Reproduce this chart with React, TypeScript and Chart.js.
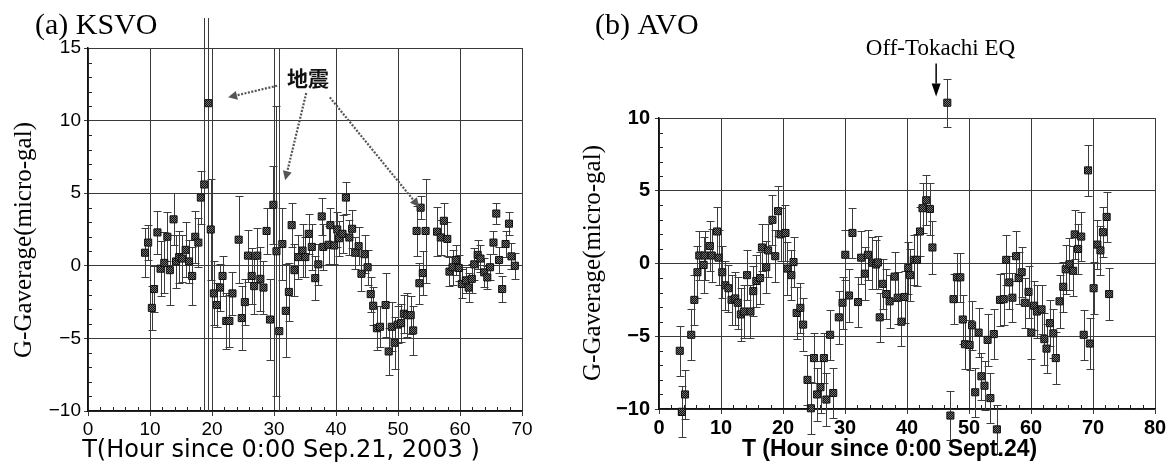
import React, { useEffect, useRef } from "react";
import { Chart, registerables } from "chart.js";

Chart.register(...registerables);

// ---------- Panel (a) KSVO ----------
const A_HOURS = [
  9.2, 9.7, 10.3, 10.65, 11.2, 11.7, 12.3, 12.8, 13.2, 13.8,
  14.2, 14.7, 15.2, 15.75, 16.3, 16.8, 17.3, 17.8, 18.2, 18.75,
  19.4, 19.8, 20.3, 20.8, 21.3, 21.7, 22.3, 22.8, 23.3, 24.3,
  24.8, 25.3, 25.8, 26.4, 26.8, 27.3, 27.8, 28.3, 28.8, 29.35,
  29.9, 30.4, 30.85, 31.35, 31.9, 32.4, 32.85, 33.3, 33.9, 34.6,
  35.05, 35.6, 36.1, 36.65, 37.15, 37.7, 37.95, 38.8, 39.1, 39.7,
  40.2, 40.5, 41.05, 41.6, 42.15, 42.6, 43.1, 43.65, 44.1, 44.6,
  45.1, 45.6, 46.0, 46.6, 47.1, 48.0, 48.5, 49.0, 49.45, 49.95,
  50.5, 50.95, 51.5, 52.05, 52.45, 53.0, 53.45, 53.65, 54.0, 54.45,
  56.3, 56.9, 57.4, 57.95, 58.3, 58.8, 59.3, 59.8, 60.3, 60.95,
  61.4, 61.9, 62.3, 62.85, 63.3, 63.9, 64.4, 64.85, 65.4, 65.85,
  66.3, 66.8, 67.35, 67.9, 68.3, 68.85,
];
const A_GRAV = [
  0.9, 1.6, -2.9, -1.6, 2.3, -0.2, 0.2, 2.0, -0.3, 3.2,
  0.3, 0.6, 0.5, 1.1, 0.3, -0.7, 2.0, 1.6, 4.7, 5.6,
  11.2, 2.5, -1.9, -2.7, -1.5, -0.7, -3.8, -3.8, -1.9, 1.8,
  -3.6, -2.5, 0.7, -0.7, -1.4, 0.7, -0.9, -1.5, 2.4, -3.7,
  4.2, 1.0, -4.5, 1.5, -3.1, -1.8, 2.8, -0.3, 0.6, 1.05,
  0.6, 2.2, 1.3, -0.85, 0.1, 3.4, 1.3, 1.45, 2.8, 1.4,
  2.5, 1.9, 2.2, 4.7, 1.95, 2.55, 0.9, 1.35, -0.55, 0.8,
  -0.1, -1.95, -2.75, -4.3, -4.2, -2.7, -5.9, -4.2, -5.3, -4.05,
  -3.95, -3.3, -3.4, -3.4, -4.45, 2.4, -1.2, 4.0, -0.5, 2.4,
  2.35, 1.95, 3.1, 1.85, -0.4, -0.1, 0.4, -0.15, -1.25, -1.0,
  -1.5, -0.9, 0.1, 0.75, 0.5, -0.45, -0.8, -0.1, 1.6, 3.6,
  0.4, -1.6, 1.5, 2.9, 0.65, 0.0,
];
const A_ERR = [
  1.7, 1.2, 1.5, 1.6, 1.5, 1.9, 2.1, 1.7, 2.4, 1.8,
  1.8, 1.8, 1.6, 1.9, 1.5, 2.0, 1.8, 1.7, 1.8, 18,
  25, 3.5, 2.2, 1.5, 1.6, 1.4, 1.9, 1.8, 1.5, 3.0,
  2.2, 1.6, 1.8, 1.9, 1.9, 1.9, 2.2, 1.8, 1.6, 2.8,
  2.7, 10, 19.5, 2.5, 3.2, 2.0, 1.5, 1.8, 1.5, 1.8,
  1.4, 1.4, 1.6, 1.5, 1.4, 1.3, 1.6, 1.3, 1.2, 1.3,
  1.2, 1.2, 1.3, 1.1, 1.2, 1.3, 1.1, 1.3, 1.2, 1.3,
  1.2, 1.2, 1.3, 1.5, 1.4, 2.2, 1.6, 1.7, 1.8, 1.3,
  1.3, 1.3, 1.5, 1.3, 1.7, 1.7, 1.4, 0.8, 1.5, 3.6,
  1.7, 1.2, 1.2, 1.2, 1.0, 1.2, 1.0, 0.9, 1.0, 0.9,
  1.0, 1.0, 1.1, 1.0, 0.9, 1.0, 0.8, 0.9, 0.8, 0.75,
  0.9, 0.9, 0.9, 0.8, 0.9, 0.9,
];
const A_X_TICKS = [0, 10, 20, 30, 40, 50, 60, 70];
const A_Y_TICKS = [-10, -5, 0, 5, 10, 15];

// ---------- Panel (b) AVO ----------
const B_HOURS = [
  3.35, 3.7, 4.2, 5.2, 5.7, 6.2, 6.5, 7.2, 7.35, 8.2,
  8.5, 9.35, 9.6, 10.2, 10.7, 11.2, 11.7, 12.3, 12.7, 13.2,
  13.7, 14.2, 14.75, 15.2, 15.7, 16.3, 16.6, 17.3, 17.6, 18.3,
  18.75, 19.2, 19.6, 20.4, 20.7, 21.35, 21.7, 22.2, 22.8, 23.25,
  23.95, 24.5, 25.0, 25.5, 26.05, 26.6, 27.0, 27.6, 28.1, 29.0,
  29.6, 30.05, 30.65, 31.2, 32.1, 32.6, 33.2, 33.7, 34.4, 35.0,
  35.3, 35.6, 36.1, 36.65, 37.2, 38.0, 38.5, 39.1, 39.6, 40.2,
  40.5, 41.1, 41.6, 42.1, 42.5, 43.1, 43.7, 44.1, 46.5, 47.0,
  47.5, 48.05, 48.6, 49.0, 49.35, 50.1, 50.5, 51.0, 51.55, 52.0,
  52.5, 53.0, 53.45, 54.0, 54.5, 55.0, 55.6, 56.0, 56.5, 57.0,
  57.6, 58.0, 58.5, 59.0, 59.6, 60.05, 60.5, 60.95, 61.7, 62.15,
  62.5, 63.05, 63.6, 64.0, 64.6, 65.2, 65.6, 66.2, 66.8, 67.05,
  67.6, 68.1, 68.5, 69.2, 69.5, 70.1, 70.7, 71.2, 71.6, 72.2,
  72.6,
];
const B_GRAV = [
  -6.0, -10.2, -9.0, -4.9, -2.5, -0.6, 0.55, -0.1, 0.55, 1.2,
  0.55, 2.2, 0.4, -0.6, -1.5, -1.7, -2.5, -2.4, -2.7, -3.5,
  -3.3, -0.8, -3.3, -1.9, -1.2, -1.0, 1.1, -0.25, 0.9, 3.0,
  0.5, 3.6, 2.0, 2.1, -0.35, -0.8, 0.1, -3.4, -3.05, -4.2,
  -8.0, -9.95, -6.5, -9.0, -8.5, -6.5, -9.35, -4.9, -8.9, -3.7,
  -2.7, 0.6, -2.2, 2.1, -2.65, 0.4, -0.7, 0.6, 0.05, -0.07,
  0.07, -3.7, -1.4, -2.1, -2.6, -0.9, -2.35, -4.0, -2.3, -0.3,
  -0.8, 0.25, 0.25, 2.2, 3.8, 4.35, 3.75, 1.1, 11.05, -10.45,
  -2.45, -0.95, -0.95, -3.85, -5.55, -5.6, -4.25, -8.85, -4.75, -7.75,
  -8.4, -5.25, -9.25, -4.85, -11.4, -2.5, -2.45, 0.25, -1.3, -2.35,
  0.5, -1.0, -0.6, -2.7, -1.95, -4.75, -2.9, -3.3, -3.15, -5.2,
  -5.85, -4.1, -4.8, -6.5, -2.6, -1.6, -0.4, -0.05, -0.5, 2.0,
  1.0, 1.85, -4.9, 6.4, -5.5, -1.7, 1.3, 0.9, 2.15, 3.2,
  -2.1,
];
const B_ERR = [
  1.7, 1.75, 1.7, 1.75, 1.7, 1.8, 1.7, 1.9, 1.7, 1.7,
  1.8, 1.7, 1.9, 1.8, 1.7, 1.6, 1.7, 1.8, 1.8, 1.8,
  1.8, 1.7, 1.8, 1.7, 1.8, 1.8, 1.6, 1.8, 1.8, 1.7,
  1.8, 1.7, 1.8, 1.9, 1.8, 1.7, 1.7, 1.8, 1.7, 1.8,
  1.7, 1.8, 1.7, 1.8, 1.8, 1.7, 1.8, 1.7, 1.7, 1.8,
  1.8, 1.7, 1.8, 1.7, 1.7, 1.8, 1.8, 1.7, 1.8, 1.7,
  1.8, 1.7, 1.7, 1.7, 1.8, 1.7, 1.8, 1.7, 1.8, 1.8,
  1.8, 1.7, 1.8, 1.7, 1.7, 1.7, 1.8, 1.8, 1.65, 1.7,
  1.7, 1.7, 1.7, 1.7, 1.7, 1.7, 1.7, 1.7, 1.7, 1.6,
  1.7, 1.8, 1.7, 1.7, 1.7, 1.8, 1.8, 1.7, 1.8, 1.7,
  1.7, 1.8, 1.7, 1.7, 1.8, 1.8, 1.7, 1.8, 1.7, 1.8,
  1.7, 1.6, 1.7, 1.8, 1.8, 1.7, 1.7, 1.8, 1.7, 1.7,
  1.7, 1.7, 1.7, 1.75, 1.75, 1.8, 1.7, 1.7, 1.7, 1.7,
  1.8,
];
const B_X_TICKS = [0, 10, 20, 30, 40, 50, 60, 70, 80];
const B_Y_TICKS = [-10, -5, 0, 5, 10];

// ---------- Texts ----------
const A_TITLE = "(a) KSVO";
const B_TITLE = "(b) AVO";
const Y_LABEL = "G-Gaverage(micro-gal)";
const A_X_LABEL = "T(Hour since 0:00 Sep.21, 2003 )";
const B_X_LABEL = "T (Hour since 0:00 Sept.24)";
const A_NOTE = "地震";
const B_NOTE = "Off-Tokachi EQ";

const SERIF = '"Liberation Serif", "Times New Roman", serif';
const SANS = '"Liberation Sans", Arial, sans-serif';

function fmtTick(v: any) {
  const n = Number(v);
  return n < 0 ? "\u2212" + Math.abs(n) : String(n);
}

function makePattern(ctx: CanvasRenderingContext2D) {
  const c = document.createElement("canvas");
  c.width = 2;
  c.height = 2;
  const g = c.getContext("2d")!;
  g.fillStyle = "#707070";
  g.fillRect(0, 0, 2, 2);
  g.fillStyle = "#101010";
  g.fillRect(0, 0, 1, 1);
  g.fillRect(1, 1, 1, 1);
  return ctx.createPattern(c, "repeat");
}

function drawArrow(
  ctx: CanvasRenderingContext2D,
  x1: number, y1: number, x2: number, y2: number,
  o: { color: string; width: number; dash: number[]; head: number; headW: number }
) {
  const ang = Math.atan2(y2 - y1, x2 - x1);
  const bx = x2 - Math.cos(ang) * o.head;
  const by = y2 - Math.sin(ang) * o.head;
  ctx.save();
  ctx.strokeStyle = o.color;
  ctx.lineWidth = o.width;
  ctx.setLineDash(o.dash);
  ctx.beginPath();
  ctx.moveTo(x1, y1);
  ctx.lineTo(bx, by);
  ctx.stroke();
  ctx.setLineDash([]);
  ctx.fillStyle = o.color;
  ctx.beginPath();
  ctx.moveTo(x2, y2);
  ctx.lineTo(bx + Math.sin(ang) * o.headW, by - Math.cos(ang) * o.headW);
  ctx.lineTo(bx - Math.sin(ang) * o.headW, by + Math.cos(ang) * o.headW);
  ctx.closePath();
  ctx.fill();
  ctx.restore();
}

function makeErrPlugin(errors: number[], clipTop: number, clipBottom: number) {
  return {
    id: "errbars",
    beforeDatasetsDraw(chart: any) {
      const { ctx, chartArea, scales } = chart;
      const xs = scales.x;
      const ys = scales.y;
      const pts = chart.data.datasets[0].data;
      ctx.save();
      ctx.beginPath();
      ctx.rect(0, chartArea.top - clipTop, chart.width, chartArea.bottom - chartArea.top + clipTop + clipBottom);
      ctx.clip();
      ctx.strokeStyle = "#3c3c3c";
      ctx.lineWidth = 1;
      pts.forEach((p: any, i: number) => {
        const px = Math.round(xs.getPixelForValue(p.x)) + 0.5;
        const yt = Math.round(ys.getPixelForValue(p.y + errors[i])) + 0.5;
        const yb = Math.round(ys.getPixelForValue(p.y - errors[i])) + 0.5;
        ctx.beginPath();
        ctx.moveTo(px, yt);
        ctx.lineTo(px, yb);
        ctx.moveTo(px - 4, yt);
        ctx.lineTo(px + 4, yt);
        ctx.moveTo(px - 4, yb);
        ctx.lineTo(px + 4, yb);
        ctx.stroke();
      });
      ctx.restore();
    },
    afterDatasetsDraw(chart: any) {
      // Chart.js skips points that fall outside the chart area; draw those too
      const ca = chart.chartArea;
      const big = { left: -1e5, right: 1e5, top: -1e5, bottom: 1e5 };
      const meta = chart.getDatasetMeta(0);
      meta.data.forEach((el: any) => {
        if (el.y < ca.top || el.y > ca.bottom) el.draw(chart.ctx, big);
      });
    },
  };
}

type Spec = {
  title: string; titleX: number; titleY: number;
  yLabelX: number; yLabelY: number;
  xLabel: string; xLabelX: number; xLabelY: number; xLabelFont: string;
  notes: (ctx: CanvasRenderingContext2D, xs: any, ys: any) => void;
};

function makeDecorPlugin(spec: Spec) {
  return {
    id: "decor",
    afterDraw(chart: any) {
      const { ctx, chartArea: ca, scales } = chart;
      const xs = scales.x;
      const ys = scales.y;
      ctx.save();
      // minor ticks
      ctx.strokeStyle = "#222";
      ctx.lineWidth = 1;
      for (let v = ys.min; v <= ys.max; v += 1) {
        if (v % 5 === 0) continue;
        const py = Math.round(ys.getPixelForValue(v)) + 0.5;
        ctx.beginPath();
        ctx.moveTo(ca.left, py);
        ctx.lineTo(ca.left + 4, py);
        ctx.stroke();
      }
      for (let v = xs.min; v <= xs.max; v += 2) {
        if (v % 10 === 0) continue;
        const px = Math.round(xs.getPixelForValue(v)) + 0.5;
        ctx.beginPath();
        ctx.moveTo(px, ca.bottom);
        ctx.lineTo(px, ca.bottom - 4);
        ctx.stroke();
      }
      ctx.fillStyle = "#000";
      // panel title
      ctx.font = `30px ${SERIF}`;
      ctx.textAlign = "left";
      ctx.textBaseline = "alphabetic";
      ctx.fillText(spec.title, spec.titleX, spec.titleY);
      // y label
      ctx.save();
      ctx.translate(spec.yLabelX, spec.yLabelY);
      ctx.rotate(-Math.PI / 2);
      ctx.font = `25px ${SERIF}`;
      ctx.textAlign = "center";
      ctx.textBaseline = "middle";
      ctx.fillText(Y_LABEL, 0, 0);
      ctx.restore();
      // x label
      ctx.font = spec.xLabelFont;
      ctx.textAlign = "center";
      ctx.textBaseline = "middle";
      ctx.fillText(spec.xLabel, spec.xLabelX, spec.xLabelY);
      spec.notes(ctx, xs, ys);
      ctx.restore();
    },
  };
}

function buildChart(
  canvas: HTMLCanvasElement,
  hours: number[], grav: number[], errs: number[],
  xTicks: number[], yTicks: number[],
  pad: { left: number; right: number; top: number; bottom: number },
  yWidth: number, xHeight: number,
  tickFont: any, yTickPad: number,
  clipTop: number, clipBottom: number,
  spec: Spec
) {
  const ctx = canvas.getContext("2d")!;
  const pattern = makePattern(ctx);
  return new Chart(canvas, {
    type: "scatter",
    data: {
      datasets: [
        {
          data: hours.map((h, i) => ({ x: h, y: grav[i] })),
          pointStyle: "rect",
          pointRadius: 5,
          pointHoverRadius: 5,
          pointBackgroundColor: pattern as any,
          pointBorderColor: "#111",
          pointBorderWidth: 1,
          showLine: false,
          clip: false as any,
        },
      ],
    },
    options: {
      responsive: false,
      animation: false,
      events: [],
      layout: { padding: pad },
      plugins: { legend: { display: false }, tooltip: { enabled: false } },
      scales: {
        x: {
          type: "linear",
          min: xTicks[0],
          max: xTicks[xTicks.length - 1],
          afterBuildTicks: (s: any) => {
            s.ticks = xTicks.map((v) => ({ value: v }));
          },
          afterFit: (s: any) => {
            s.height = xHeight;
          },
          grid: { color: "#3a3a3a", lineWidth: 1, tickLength: 5, drawTicks: true },
          border: { color: "#111", width: 1.5 },
          ticks: { font: tickFont, color: "#000", padding: 2, maxRotation: 0, autoSkip: false, callback: fmtTick },
        },
        y: {
          type: "linear",
          min: yTicks[0],
          max: yTicks[yTicks.length - 1],
          afterBuildTicks: (s: any) => {
            s.ticks = yTicks.map((v) => ({ value: v }));
          },
          afterFit: (s: any) => {
            s.width = yWidth;
          },
          grid: { color: "#3a3a3a", lineWidth: 1, tickLength: 4, drawTicks: true },
          border: { color: "#111", width: 1.5 },
          ticks: { font: tickFont, color: "#000", padding: yTickPad, autoSkip: false, callback: fmtTick },
        },
      },
    },
    plugins: [makeErrPlugin(errs, clipTop, clipBottom), makeDecorPlugin(spec)],
  } as any);
}

export default function App() {
  const refA = useRef<HTMLCanvasElement>(null);
  const refB = useRef<HTMLCanvasElement>(null);

  useEffect(() => {
    const specA: Spec = {
      title: A_TITLE, titleX: 35, titleY: 34,
      yLabelX: 24, yLabelY: 240,
      xLabel: A_X_LABEL, xLabelX: 281, xLabelY: 451, xLabelFont: `24px "DejaVu Sans", sans-serif`,
      notes: (ctx, xs, ys) => {
        const P = (x: number, y: number) => [xs.getPixelForValue(x), ys.getPixelForValue(y)];
        ctx.font = `bold 21px "Noto Sans CJK JP", sans-serif`;
        ctx.textAlign = "center";
        ctx.textBaseline = "middle";
        ctx.fillStyle = "#111";
        const [tx, ty] = P(35.5, 12.9);
        ctx.fillText(A_NOTE, tx, ty);
        const st = { color: "#555", width: 2.2, dash: [2, 1.5], head: 9, headW: 4.5 };
        const arrows = [
          [30.5, 12.4, 22.6, 11.6],
          [35.2, 11.9, 31.8, 5.9],
          [39.0, 11.6, 53.4, 4.05],
        ];
        arrows.forEach(([a, b, c, d]) => {
          const [x1, y1] = P(a, b);
          const [x2, y2] = P(c, d);
          drawArrow(ctx, x1, y1, x2, y2, st);
        });
      },
    };
    const specB: Spec = {
      title: B_TITLE, titleX: 20, titleY: 34,
      yLabelX: 18, yLabelY: 263,
      xLabel: B_X_LABEL, xLabelX: 314.5, xLabelY: 450, xLabelFont: `bold 23px ${SANS}`,
      notes: (ctx, xs, ys) => {
        const P = (x: number, y: number) => [xs.getPixelForValue(x), ys.getPixelForValue(y)];
        ctx.font = `23px ${SERIF}`;
        ctx.textAlign = "center";
        ctx.textBaseline = "alphabetic";
        ctx.fillStyle = "#000";
        const [tx, ty] = P(45.4, 14.3);
        ctx.fillText(B_NOTE, tx, ty);
        const [x1, y1] = P(44.7, 13.74);
        const [x2, y2] = P(44.7, 11.48);
        drawArrow(ctx, x1, y1, x2, y2, { color: "#000", width: 1.5, dash: [], head: 13, headW: 4.5 });
      },
    };

    const chartA = buildChart(
      refA.current!, A_HOURS, A_GRAV, A_ERR, A_X_TICKS, A_Y_TICKS,
      { left: 40, right: 53, top: 48, bottom: 0 }, 48, 53,
      { family: SANS, size: 19 }, 3, 30, 0, specA
    );
    const chartB = buildChart(
      refB.current!, B_HOURS, B_GRAV, B_ERR, B_X_TICKS, B_Y_TICKS,
      { left: 40, right: 15, top: 118, bottom: 0 }, 44, 55,
      { family: SANS, size: 20, weight: "bold" }, 5, 200, 200, specB
    );
    return () => {
      chartA.destroy();
      chartB.destroy();
    };
  }, []);

  return (
    <div style={{ position: "fixed", left: 0, top: 0, width: 1170, height: 464, background: "#fff", overflow: "hidden" }}>
      <canvas ref={refA} width={575} height={464} style={{ position: "absolute", left: 0, top: 0, width: 575, height: 464 }} />
      <canvas ref={refB} width={595} height={464} style={{ position: "absolute", left: 575, top: 0, width: 595, height: 464 }} />
    </div>
  );
}
